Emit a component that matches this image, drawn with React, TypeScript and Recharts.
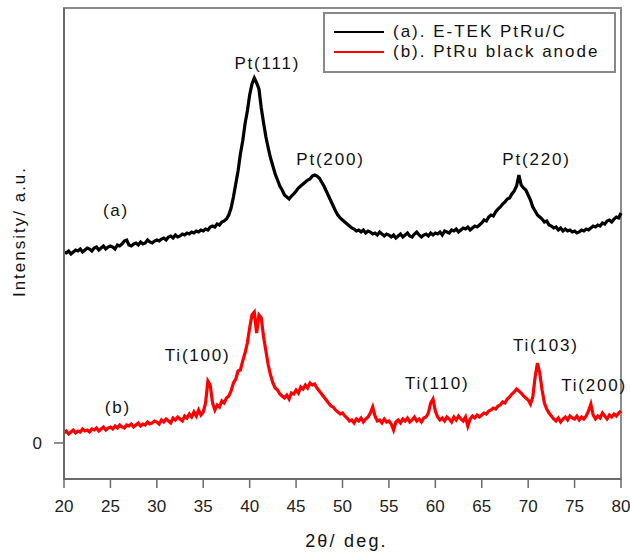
import { Legend, Line, LineChart, ReferenceArea, ReferenceDot, XAxis, YAxis } from "recharts";

const FONT = '"Liberation Sans", Arial, sans-serif';

// 2θ grid: 20° to 80° in 0.25° steps
const START_ANGLE = 20;
const STEP = 0.25;

// (a) E-TEK PtRu/C (arbitrary units)
const etekPtRuC = [
  191, 190, 192, 189, 191, 193, 192, 194, 191, 193, 195, 194, 192, 195, 196, 193, 195, 197, 194, 196,
  197, 196, 194, 198, 197, 199, 202, 203, 198, 197, 199, 200, 198, 201, 199, 200, 203, 201, 200, 202,
  203, 202, 204, 205, 203, 206, 207, 205, 208, 206, 207, 209, 208, 210, 209, 211, 210, 212, 211, 213,
  212, 214, 213, 216, 217, 216, 219, 218, 221, 222, 224, 228, 235, 246, 259, 272, 289, 302, 319, 332,
  348, 359, 365, 360, 354, 335, 320, 306, 295, 285, 277, 269, 263, 257, 253, 248, 246, 244, 247, 249,
  252, 255, 257, 259, 261, 263, 264, 267, 268, 267, 265, 261, 257, 252, 247, 242, 237, 232, 228, 225,
  223, 221, 219, 217, 215, 214, 212, 213, 211, 213, 210, 212, 211, 209, 210, 208, 211, 209, 207, 209,
  208, 206, 208, 205, 207, 209, 206, 208, 210, 207, 206, 209, 211, 208, 206, 208, 209, 207, 210, 208,
  210, 209, 211, 208, 212, 211, 210, 213, 212, 214, 211, 213, 215, 214, 216, 213, 215, 217, 216, 218,
  220, 223, 222, 226, 228, 227, 231, 234, 236, 239, 241, 244, 245, 249, 252, 257, 268, 258, 255, 253,
  248, 243, 236, 232, 228, 226, 224, 221, 222, 218, 217, 215, 216, 213, 215, 212, 214, 212, 213, 211,
  212, 210, 211, 213, 212, 214, 213, 215, 217, 216, 218, 217, 220, 219, 222, 223, 221, 224, 226, 225, 230,
];

// (b) PtRu black anode
const ptRuBlackAnode = [
  10, 12, 9, 11, 13, 10, 12, 11, 14, 12, 13, 11, 14, 13, 15, 12, 14, 16, 13, 15,
  16, 14, 17, 15, 18, 16, 15, 18, 17, 19, 16, 18, 20, 17, 19, 18, 21, 19, 20, 22,
  21, 19, 23, 21, 24, 22, 20, 25, 23, 26, 24, 22, 27, 25, 29, 26, 31, 27, 33, 28,
  31, 40, 62, 58, 40, 33, 38, 36, 42, 40, 45, 47, 52, 60, 64, 72, 73, 82, 90, 100,
  115, 128, 131, 110, 128, 125, 106, 92, 78, 68, 60, 55, 53, 49, 47, 45, 48, 44, 50, 49,
  53, 50, 56, 54, 58, 55, 60, 58, 59, 55, 52, 49, 46, 43, 40, 37, 36, 33, 31, 29,
  30, 27, 25, 22, 23, 20, 24, 22, 25, 21, 24, 26, 30, 36, 27, 22, 23, 20, 24, 21,
  22, 19, 13, 21, 23, 20, 24, 22, 25, 21, 23, 26, 22, 24, 21, 25, 26, 30, 40, 44,
  32, 26, 23, 25, 22, 26, 24, 21, 26, 23, 27, 24, 22, 26, 17, 24, 27, 25, 28, 26,
  28, 30, 29, 32, 33, 35, 34, 37, 38, 41, 40, 44, 46, 49, 51, 54, 52, 50, 47, 45,
  43, 39, 46, 66, 80, 70, 53, 40, 34, 30, 27, 24, 22, 25, 21, 24, 26, 23, 27, 25,
  24, 27, 23, 26, 24, 27, 32, 39, 28, 24, 27, 25, 30, 27, 24, 28, 26, 29, 27, 30, 32,
];

const angleTicks = [20, 25, 30, 35, 40, 45, 50, 55, 60, 65, 70, 75, 80];
const intensityTicks = [0];
const angleRange = [20, 80];
const intensityRange = [-36, 435];

const peakNames = ["(a)", "Pt(111)", "Pt(200)", "Pt(220)", "(b)", "Ti(100)", "Ti(110)", "Ti(103)", "Ti(200)"];
const peakAngles = [25.6, 41.9, 48.7, 70.9, 25.8, 34.4, 60.2, 71.9, 77.1];
const peakIntensities = [233, 380, 284, 284, 36, 88, 60, 98, 58];

const data = etekPtRuC.map((a, i) => ({
  angle: START_ANGLE + i * STEP,
  a,
  b: ptRuBlackAnode[i],
}));

function PeakText(props: any) {
  const vb = props.viewBox || { x: 0, y: 0, width: 0, height: 0 };
  return (
    <text
      x={vb.x + (vb.width || 0) / 2}
      y={vb.y + (vb.height || 0) / 2}
      textAnchor="middle"
      dominantBaseline="central"
      fontFamily={FONT}
      fontSize={17}
      letterSpacing={1.8}
      fill="#111"
    >
      {props.text}
    </text>
  );
}

function XTitle(props: any) {
  const vb = props.viewBox;
  return (
    <text
      x={vb.x + vb.width / 2 + 4}
      y={vb.y + 62}
      textAnchor="middle"
      dominantBaseline="central"
      fontFamily={FONT}
      fontSize={18}
      letterSpacing={2.2}
      fill="#111"
    >
      2θ/ deg.
    </text>
  );
}

function YTitle(props: any) {
  const vb = props.viewBox;
  const cx = 19;
  const cy = vb.y + vb.height / 2 - 12;
  return (
    <text
      x={cx}
      y={cy}
      transform={`rotate(-90 ${cx} ${cy})`}
      textAnchor="middle"
      dominantBaseline="central"
      fontFamily={FONT}
      fontSize={17}
      letterSpacing={2}
      fill="#111"
    >
      Intensity/ a.u.
    </text>
  );
}

function LegendBox() {
  const row = (color: string, label: string) => (
    <div style={{ display: "flex", alignItems: "center", height: 20 }}>
      <div style={{ width: 50, height: 0, borderTop: `2.5px solid ${color}`, marginLeft: 9, marginRight: 9 }} />
      <span style={{ fontFamily: FONT, fontSize: 17, letterSpacing: 2, color: "#111", whiteSpace: "nowrap" }}>
        {label}
      </span>
    </div>
  );
  return (
    <div
      style={{
        width: 293,
        height: 61,
        boxSizing: "border-box",
        border: "2px solid #888",
        background: "#fff",
        paddingTop: 8,
      }}
    >
      {row("#000", "(a). E-TEK PtRu/C")}
      {row("#ff0000", "(b). PtRu black anode")}
    </div>
  );
}

export default function App() {
  return (
    <div style={{ position: "absolute", left: 0, top: 0, width: 630, height: 553, background: "#fff" }}>
      <LineChart width={630} height={553} data={data} margin={{ top: 8, right: 9, left: 0, bottom: 0 }}>
        {/* plot frame (top/right edges; left/bottom are the axis lines) */}
        <ReferenceArea
          x1={angleRange[0]}
          x2={angleRange[1]}
          y1={intensityRange[0]}
          y2={intensityRange[1]}
          fill="none"
          fillOpacity={0}
          stroke="#8c8c8c"
          strokeWidth={2}
          ifOverflow="visible"
        />
        <XAxis
          dataKey="angle"
          type="number"
          domain={angleRange}
          ticks={angleTicks}
          tickSize={9}
          tickMargin={12}
          height={74}
          axisLine={{ stroke: "#6a6a6a", strokeWidth: 2 }}
          tickLine={{ stroke: "#6a6a6a", strokeWidth: 1.5 }}
          tick={{ fontSize: 17, fill: "#222", fontFamily: FONT }}
          label={<XTitle />}
        />
        <YAxis
          type="number"
          domain={intensityRange}
          ticks={intensityTicks}
          tickSize={10}
          tickMargin={12}
          width={64}
          axisLine={{ stroke: "#6a6a6a", strokeWidth: 2 }}
          tickLine={{ stroke: "#6a6a6a", strokeWidth: 1.5 }}
          tick={{ fontSize: 17, fill: "#222", fontFamily: FONT }}
          label={<YTitle />}
        />
        <Legend
          layout="horizontal"
          verticalAlign="middle"
          align="center"
          content={<LegendBox />}
          wrapperStyle={{ position: "absolute", left: 323, top: 12, width: 293, height: 61 }}
        />
        <Line
          dataKey="a"
          name="(a). E-TEK PtRu/C"
          stroke="#000"
          strokeWidth={3.2}
          dot={false}
          type="linear"
          isAnimationActive={false}
        />
        <Line
          dataKey="b"
          name="(b). PtRu black anode"
          stroke="#ff0000"
          strokeWidth={3.2}
          dot={false}
          type="linear"
          isAnimationActive={false}
        />
        {peakNames.map((name, i) => (
          <ReferenceDot
            key={name + i}
            x={peakAngles[i]}
            y={peakIntensities[i]}
            r={0}
            fill="none"
            stroke="none"
            ifOverflow="visible"
            label={<PeakText text={name} />}
          />
        ))}
      </LineChart>
    </div>
  );
}
